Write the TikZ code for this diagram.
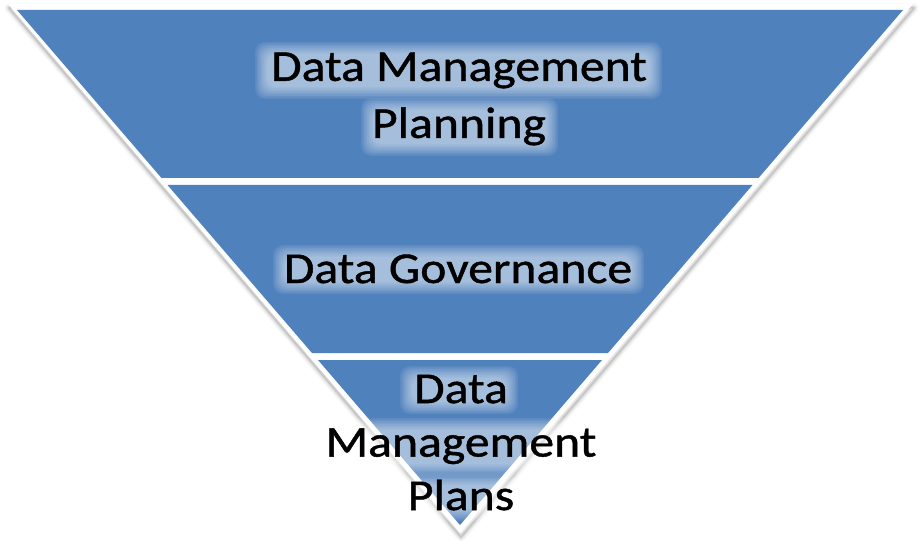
\documentclass[tikz,border=0pt]{standalone}
\usepackage{fontspec}
\setmainfont{Carlito}[FakeStretch=1.13,FakeBold=1]
\definecolor{bandblue}{RGB}{79,129,189}
\newcommand\glowbox[4]{%
  \foreach \i in {-10,-8.5,...,2} {%
    \fill[white,opacity=0.075,rounded corners=10pt] (#1+\i,#2+\i) rectangle (#3-\i,#4-\i);
  }%
}
\begin{document}
\begin{tikzpicture}[x=1pt,y=-1pt,
  band/.style={fill=bandblue},
  shadowline/.style={draw=black,line join=round},
  lbl/.style={align=center,inner sep=0pt,text=black}]
\useasboundingbox (0,0) rectangle (920,545);
% soft shadow
\foreach \w/\o in {9/0.03,6/0.05,3.5/0.07,1.5/0.09} {
  \draw[shadowline,line width=\w pt,opacity=\o] (9,8) -- (914,8) -- (461,537) -- cycle;
}
% white outer frame
\fill[white] (8,4) -- (913,4) -- (460,533) -- cycle;
% bands
\fill[band] (17,10) -- (903,10) -- (758.5,178) -- (161.5,178) -- cycle;
\fill[band] (167.5,185) -- (752.5,185) -- (608,353) -- (312,353) -- cycle;
\fill[band] (318,360) -- (602,360) -- (460,525) -- cycle;
% glow
\glowbox{265}{52}{652}{89}
\glowbox{371}{108}{548}{146}
\glowbox{283}{255}{634}{284}
\glowbox{410}{376}{508}{404}
\glowbox{325}{428}{598}{466}
\glowbox{407}{483}{511}{511}
% texts
\node[lbl,font=\fontsize{44}{57}\selectfont] (planning) at (459,99) {Data Management\\Planning};
\node[lbl,font=\fontsize{44}{57}\selectfont,anchor=base] (governance) at (458,283) {Data Governance};
\node[lbl,font=\fontsize{44}{53.5}\selectfont] (plans) at (461,442.6) {Data\\Management\\Plans};
\end{tikzpicture}
\end{document}
